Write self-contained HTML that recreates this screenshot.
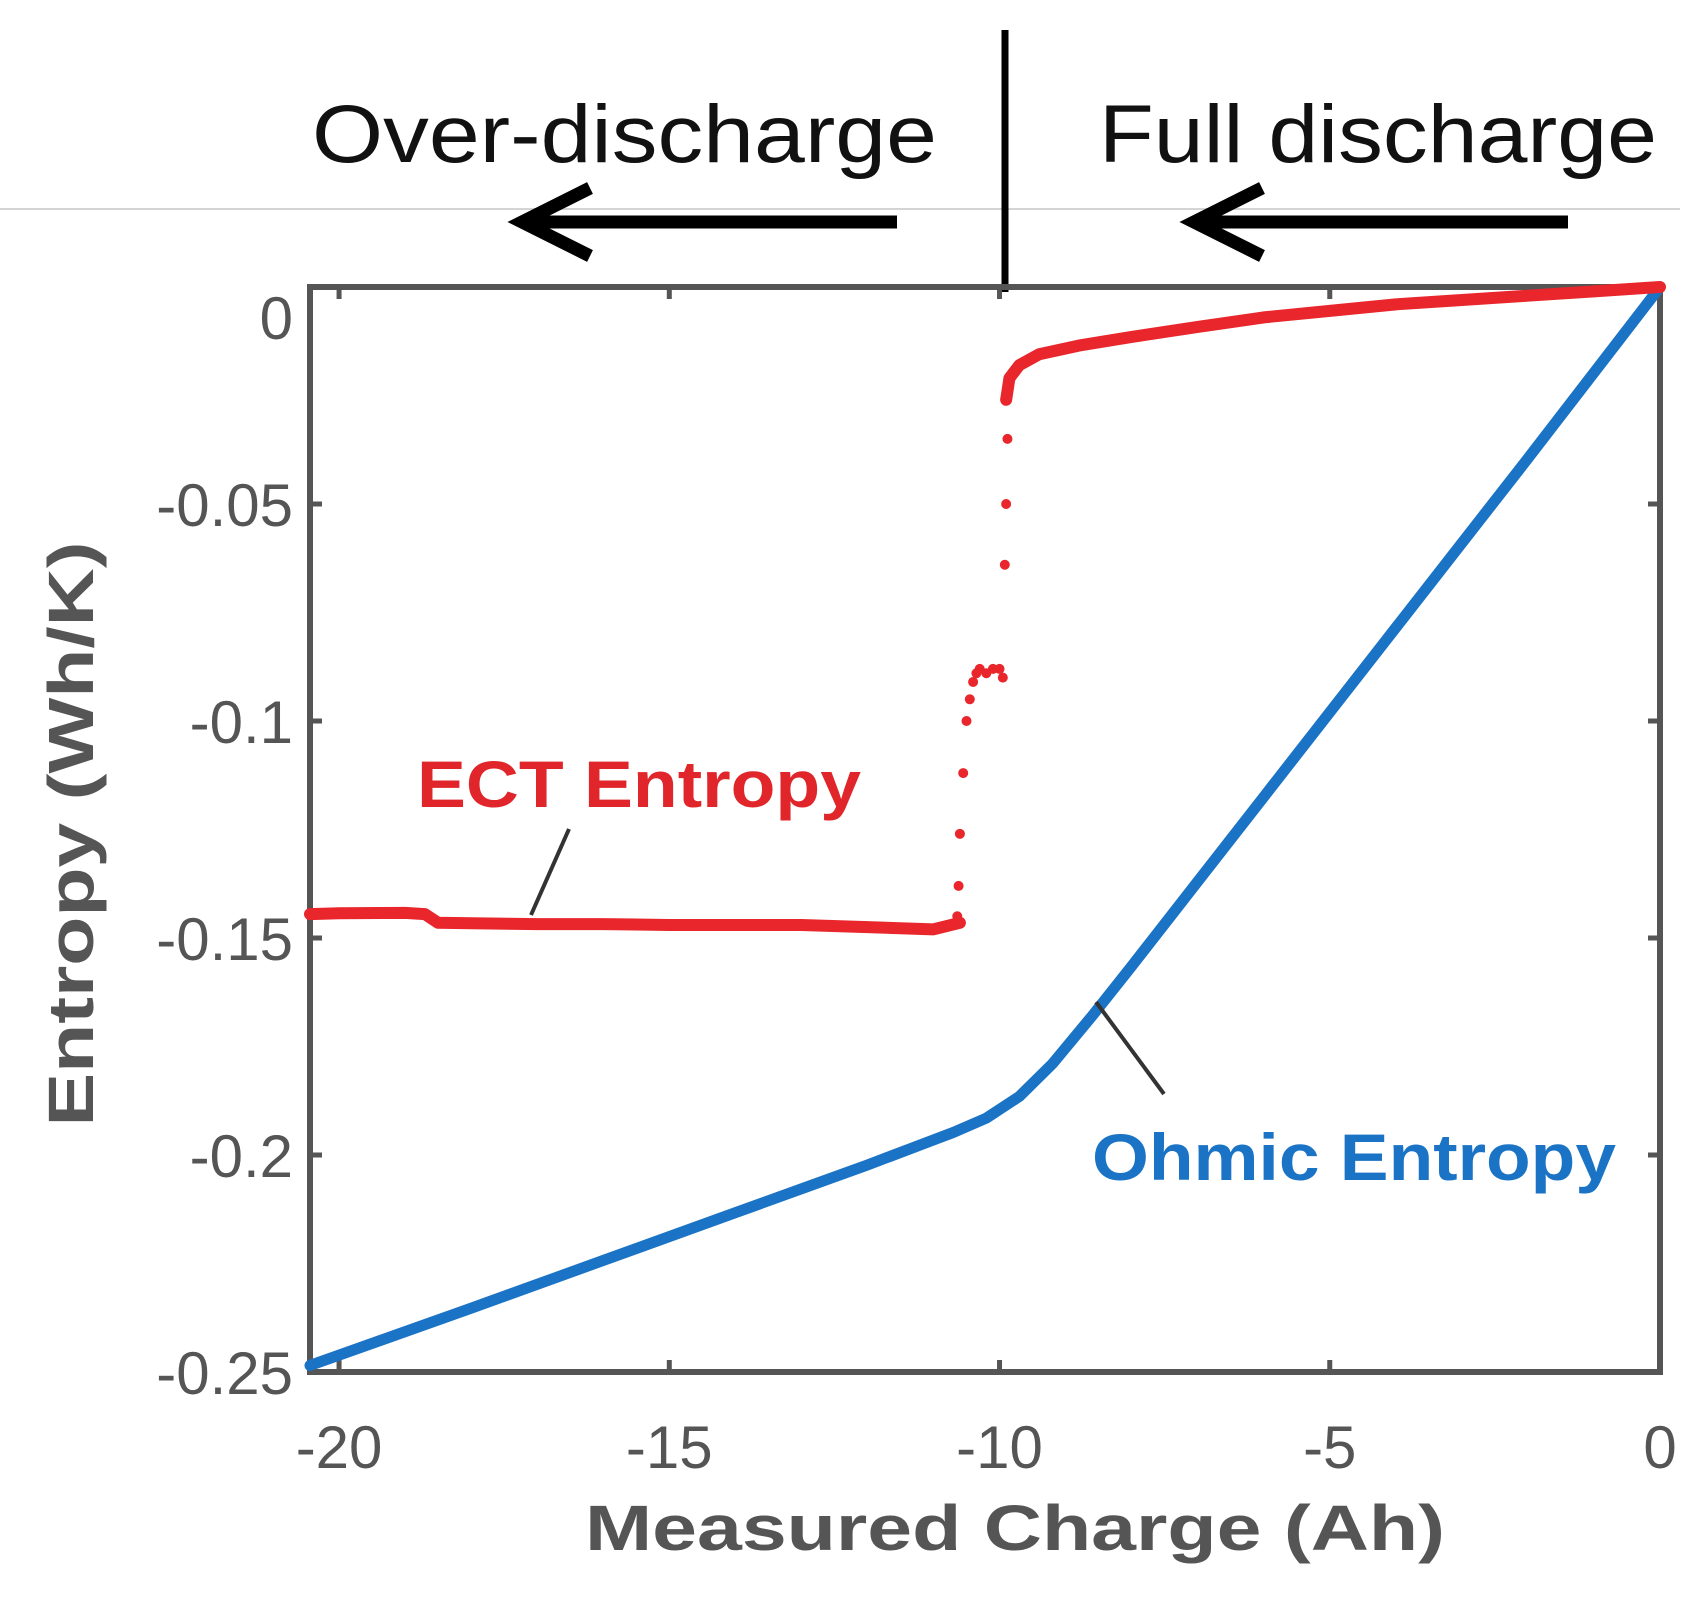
<!DOCTYPE html>
<html><head><meta charset="utf-8"><style>
html,body{margin:0;padding:0;background:#fff;width:1694px;height:1598px;overflow:hidden}
svg{display:block}
</style></head><body>
<svg id="chart" width="1694" height="1598" viewBox="0 0 1694 1598" xmlns="http://www.w3.org/2000/svg" font-family="'Liberation Sans', Arial, sans-serif">
  <line x1="0" y1="209" x2="1680" y2="209" stroke="#d4d4d4" stroke-width="2"/>
  <line x1="1005" y1="30" x2="1005" y2="292" stroke="#000" stroke-width="7"/>
  <text x="312" y="162" font-size="82" fill="#111" textLength="625" lengthAdjust="spacingAndGlyphs">Over-discharge</text>
  <text x="1099" y="162" font-size="82" fill="#111" textLength="558" lengthAdjust="spacingAndGlyphs">Full discharge</text>
  <g stroke="#000" stroke-width="13" fill="none" stroke-linecap="butt">
    <line x1="897" y1="222" x2="525" y2="222"/>
    <polyline points="590,188 522,222 590,256" stroke-linejoin="miter"/>
  </g>
  <g stroke="#000" stroke-width="13" fill="none">
    <line x1="1568" y1="222" x2="1197" y2="222"/>
    <polyline points="1262,188 1194,222 1262,256"/>
  </g>
  <g id="plot"></g>
</svg>
<script>
const xTicks = [-20, -15, -10, -5, 0];
const xTickLabels = ["-20", "-15", "-10", "-5", "0"];
const yTicks = [0, -0.05, -0.1, -0.15, -0.2, -0.25];
const yTickLabels = ["0", "-0.05", "-0.1", "-0.15", "-0.2", "-0.25"];
const ectX = [0, -1, -2, -3, -4, -5, -6, -7, -8, -8.8, -9.4, -9.7, -9.85, -9.9];
const ectY = [0, -0.001, -0.002, -0.003, -0.004, -0.0055, -0.007, -0.0092, -0.0115, -0.0135, -0.0155, -0.018, -0.021, -0.026];
const ectDotsX = [-9.88, -9.9, -9.92, -9.95, -10.0, -10.1, -10.2, -10.3, -10.35, -10.4, -10.45, -10.5, -10.55, -10.6, -10.62, -10.64];
const ectDotsY = [-0.035, -0.05, -0.064, -0.09, -0.088, -0.088, -0.089, -0.088, -0.089, -0.091, -0.095, -0.1, -0.112, -0.126, -0.138, -0.145];
const ectFlatX = [-10.6, -11, -12, -13, -14, -15, -16, -17, -18, -18.5, -18.7, -19, -20, -20.44];
const ectFlatY = [-0.1465, -0.148, -0.1475, -0.147, -0.147, -0.147, -0.1468, -0.1468, -0.1466, -0.1465, -0.1445, -0.1442, -0.1443, -0.1445];
const ohmX = [0, -2, -4, -6, -8, -8.6, -9.2, -9.7, -10.2, -10.7, -12, -14, -16, -18, -20.44];
const ohmY = [0, -0.0395, -0.0785, -0.1175, -0.1565, -0.168, -0.179, -0.1865, -0.1915, -0.1948, -0.2023, -0.2133, -0.2243, -0.2353, -0.2485];

const L=310,R=1660,T=287,B=1372, XMIN=-20.44, XMAX=0, YMIN=-0.25, YMAX=0;
const sx=v=>L+(v-XMIN)/(XMAX-XMIN)*(R-L);
const sy=v=>T+(YMAX-v)/(YMAX-YMIN)*(B-T);
const NS='http://www.w3.org/2000/svg';
const plot=document.getElementById('plot');
function mk(tag,attrs,parent){const e=document.createElementNS(NS,tag);for(const k in attrs)e.setAttribute(k,attrs[k]);(parent||plot).appendChild(e);return e;}

const box=mk('rect',{x:L,y:T,width:R-L,height:B-T,fill:'none',stroke:'#555',"stroke-width":6});



xTicks.forEach((t,i)=>{
  const x=sx(t);
  const tk=mk('path',{d:`M${x},${B}v-12M${x},${T}v12`,stroke:'#555',"stroke-width":5});
  
  
  const tl=mk('text',{x:x,y:1468,"font-size":60,fill:'#555',"text-anchor":'middle'});
  tl.textContent=xTickLabels[i];
  
  
});
yTicks.forEach((t,i)=>{
  const y=sy(t);
  const tk=mk('path',{d:`M${L},${y}h12M${R},${y}h-12`,stroke:'#555',"stroke-width":5});
  
  
  const ly = t===0 ? y+52 : y+22;
  const tl=mk('text',{x:293,y:ly,"font-size":60,fill:'#555',"text-anchor":'end'});
  tl.textContent=yTickLabels[i];
  
  
});

function line(xs,ys,color,w,name){
  const p=mk('polyline',{points:xs.map((x,i)=>sx(x)+','+sy(ys[i])).join(' '),fill:'none',stroke:color,"stroke-width":w,"stroke-linejoin":'round',"stroke-linecap":'round'});
  
  
}
line(ohmX,ohmY,'#1a73c4',11,'ohmic-entropy-line');
line(ectX,ectY,'#e8262b',12,'ect-entropy-line-upper');
line(ectFlatX,ectFlatY,'#e8262b',12,'ect-entropy-line-lower');
ectDotsX.forEach((x,i)=>{
  const c=mk('circle',{cx:sx(x),cy:sy(ectDotsY[i]),r:5,fill:'#e8262b'});
  
  
});

const a1=mk('text',{x:417,y:807,"font-size":66,"font-weight":'bold',fill:'#e0262b',textLength:444,lengthAdjust:'spacingAndGlyphs'});
a1.textContent='ECT Entropy';


const l1=mk('line',{x1:569,y1:829,x2:531,y2:915,stroke:'#333',"stroke-width":4});


const a2=mk('text',{x:1092,y:1180,"font-size":66,"font-weight":'bold',fill:'#1a73c4',textLength:524,lengthAdjust:'spacingAndGlyphs'});
a2.textContent='Ohmic Entropy';


const l2=mk('line',{x1:1096,y1:1002,x2:1164,y2:1094,stroke:'#333',"stroke-width":4});



const xt=mk('text',{x:1015,y:1550,"font-size":64,"font-weight":'bold',fill:'#555',"text-anchor":'middle',textLength:860,lengthAdjust:'spacingAndGlyphs'});
xt.textContent='Measured Charge (Ah)';


const yt=mk('text',{x:0,y:0,"font-size":64,"font-weight":'bold',fill:'#555',"text-anchor":'middle',transform:'translate(93,834) rotate(-90)',textLength:585,lengthAdjust:'spacingAndGlyphs'});
yt.textContent='Entropy (Wh/K)';


</script>
</body></html>
